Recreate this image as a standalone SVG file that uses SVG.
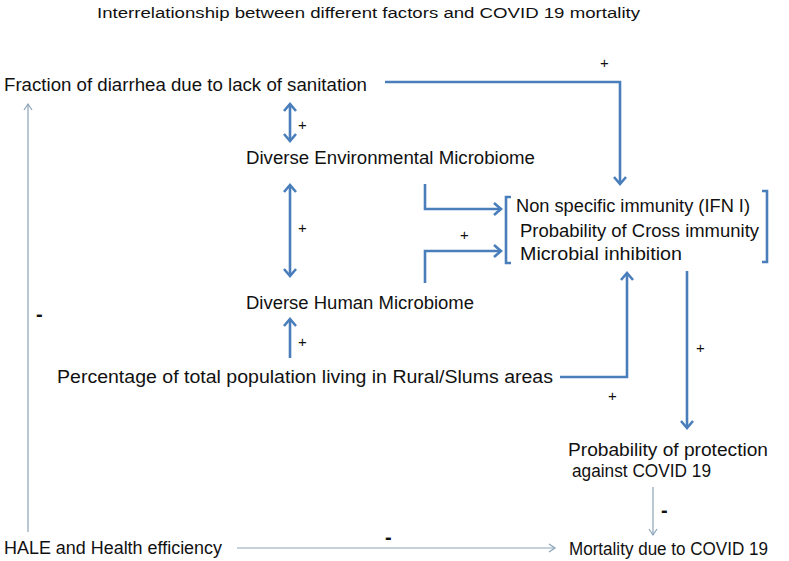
<svg xmlns="http://www.w3.org/2000/svg" width="789" height="561" viewBox="0 0 789 561">
<defs>
<style>
text{font-family:"Liberation Sans",Arial,sans-serif;fill:#111;}
.lbl{font-size:17.5px;}
.ttl{font-size:15.5px;}
.sg{font-size:15px;}
.mn{font-size:20px;font-weight:bold;}
.thick{stroke:#4A7EBB;stroke-width:2.6;fill:none;}
.thin{stroke:#8BA3B8;stroke-width:1.2;fill:none;}
</style>
<marker id="ab" viewBox="-10 -8 12 16" refX="0" refY="0" markerWidth="12" markerHeight="16" markerUnits="userSpaceOnUse" orient="auto-start-reverse">
<path d="M-7,-6 L0,0 L-7,6" fill="none" stroke="#4A7EBB" stroke-width="2.6"/>
</marker>
<marker id="at" viewBox="-10 -8 12 16" refX="0" refY="0" markerWidth="12" markerHeight="16" markerUnits="userSpaceOnUse" orient="auto-start-reverse">
<path d="M-6,-4 L0,0 L-6,4" fill="none" stroke="#8BA3B8" stroke-width="1.2"/>
</marker>
</defs>
<rect width="789" height="561" fill="#fff"/>

<text id="title" class="ttl" x="97" y="18" textLength="543" lengthAdjust="spacingAndGlyphs">Interrelationship between different factors and COVID 19 mortality</text>

<g id="n-fraction"><text class="lbl" x="4" y="91" textLength="363" lengthAdjust="spacingAndGlyphs">Fraction of diarrhea due to lack of sanitation</text></g>
<g id="n-env"><text class="lbl" x="246" y="164" textLength="289" lengthAdjust="spacingAndGlyphs">Diverse Environmental Microbiome</text></g>
<g id="n-human"><text class="lbl" x="246" y="309" textLength="228" lengthAdjust="spacingAndGlyphs">Diverse Human Microbiome</text></g>
<g id="n-rural"><text class="lbl" x="57" y="383" textLength="496" lengthAdjust="spacingAndGlyphs">Percentage of total population living in Rural/Slums areas</text></g>
<g id="n-immunity">
<path d="M511,197 L506,197 L506,263 L511,263" class="thick" stroke-width="2"/>
<path d="M762,191 L767,191 L767,262 L762,262" class="thick" stroke-width="2"/>
<text class="lbl" x="516" y="212" textLength="234" lengthAdjust="spacingAndGlyphs">Non specific immunity (IFN I)</text>
<text class="lbl" x="520" y="237" textLength="239" lengthAdjust="spacingAndGlyphs">Probability of Cross immunity</text>
<text class="lbl" x="520" y="260" textLength="162" lengthAdjust="spacingAndGlyphs">Microbial inhibition</text>
</g>
<g id="n-protection">
<text class="lbl" x="568" y="456" textLength="200" lengthAdjust="spacingAndGlyphs">Probability of protection</text>
<text class="lbl" x="572" y="477" textLength="139" lengthAdjust="spacingAndGlyphs">against COVID 19</text>
</g>
<g id="n-mortality"><text class="lbl" x="569" y="555" textLength="199" lengthAdjust="spacingAndGlyphs">Mortality due to COVID 19</text></g>
<g id="n-hale"><text class="lbl" x="4" y="554" textLength="218" lengthAdjust="spacingAndGlyphs">HALE and Health efficiency</text></g>

<g id="connectors">
<path class="thick" d="M385,82 L620,82 L620,184" marker-end="url(#ab)"/>
<text class="sg" x="600" y="68">+</text>
<path class="thick" d="M290,104 L290,141" marker-start="url(#ab)" marker-end="url(#ab)"/>
<text class="sg" x="298" y="130">+</text>
<path class="thick" d="M290,185 L290,276" marker-start="url(#ab)" marker-end="url(#ab)"/>
<text class="sg" x="298" y="233">+</text>
<path class="thick" d="M290,358 L290,319" marker-end="url(#ab)"/>
<text class="sg" x="298" y="347">+</text>
<path class="thick" d="M425,184 L425,209 L501,209" marker-end="url(#ab)"/>
<path class="thick" d="M425,283 L425,251 L501,251" marker-end="url(#ab)"/>
<text class="sg" x="460" y="240">+</text>
<path class="thick" d="M560,377 L627,377 L627,273" marker-end="url(#ab)"/>
<text class="sg" x="608" y="401">+</text>
<path class="thick" d="M687,271 L687,428" marker-end="url(#ab)"/>
<text class="sg" x="696" y="353">+</text>
<path class="thin" d="M653,487 L653,535" marker-end="url(#at)"/>
<text class="mn" x="661" y="517">-</text>
<path class="thin" d="M237,548 L555,548" marker-end="url(#at)"/>
<text class="mn" x="385" y="544">-</text>
<path class="thin" d="M28,532 L28,104" marker-end="url(#at)"/>
<text class="mn" x="36" y="321">-</text>
</g>
</svg>
